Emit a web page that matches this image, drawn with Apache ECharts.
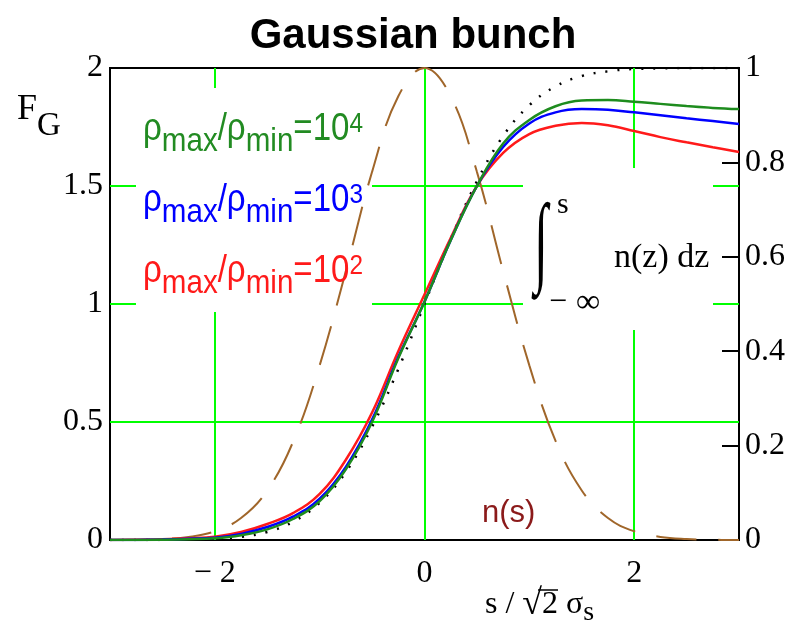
<!DOCTYPE html>
<html><head><meta charset="utf-8">
<script src="https://cdn.jsdelivr.net/npm/echarts@6/dist/echarts.min.js"></script>
<style>html,body{margin:0;padding:0;background:#fff}#c{width:788px;height:631px}</style>
</head><body><div id="c"></div>
<script>
// ---- data ----
const xs      = [-3,-2.75,-2.5,-2.25,-2,-1.75,-1.5,-1.25,-1,-0.75,-0.5,-0.25,0,0.25,0.5,0.75,1,1.25,1.5,1.75,2,2.25,2.5,2.75,3];
const nS      = [0,0.001,0.004,0.013,0.037,0.093,0.21,0.42,0.74,1.14,1.56,1.88,2,1.88,1.56,1.14,0.74,0.42,0.21,0.093,0.037,0.013,0.004,0.001,0];
const integ   = [0,0.0001,0.0002,0.0008,0.0023,0.0067,0.017,0.039,0.079,0.144,0.24,0.362,0.5,0.638,0.76,0.856,0.921,0.961,0.983,0.993,0.998,0.999,1,1,1];
const fgRed   = [0,0.001,0.003,0.007,0.014,0.034,0.068,0.115,0.195,0.34,0.54,0.80,1.04,1.28,1.50,1.64,1.72,1.755,1.767,1.757,1.733,1.707,1.685,1.664,1.644];
const fgBlue  = [0,0.0005,0.002,0.005,0.01,0.026,0.055,0.10,0.175,0.31,0.51,0.775,1.01,1.27,1.50,1.665,1.765,1.812,1.826,1.823,1.812,1.80,1.787,1.775,1.763];
const fgGreen = [0,0,0.001,0.003,0.007,0.02,0.045,0.09,0.165,0.30,0.50,0.77,1.01,1.27,1.50,1.68,1.78,1.838,1.862,1.864,1.857,1.848,1.839,1.831,1.826];
const xGrid = [-2,0,2];
const yGrid = [0.5,1,1.5];
const xTickLabels = {'-2':'\u2212 2','0':'0','2':'2'};
const legendLabels = [
  {sup:'4', color:'#228b22'},
  {sup:'3', color:'#0000ff'},
  {sup:'2', color:'#ff1a1a'}
];

const pairs = ys => xs.map((x,i)=>[x,ys[i]]);
const serif = '"Liberation Serif", "Times New Roman", serif';
const sans = '"Liberation Sans", Arial, sans-serif';

const chart = echarts.init(document.getElementById('c'));
const legendY = [130, 201, 272];

const T = (x,y,text,size,family,extra) => Object.assign({type:'text', z:10, x, y, silent:true,
  style:Object.assign({text, fontSize:size, fontFamily:family, fill:'#000', align:'left', verticalAlign:'middle'}, extra||{})});

const graphics = [
  {type:'rect', z:7, shape:{x:136,y:88,width:236,height:224}, style:{fill:'#fff'}, silent:true},
  {type:'rect', z:7, shape:{x:523,y:168,width:190,height:162}, style:{fill:'#fff'}, silent:true},
  T(413, 36, 'Gaussian bunch', 42, sans, {fontWeight:'bold', align:'center'}),
  T(17, 110, 'F', 36, serif),
  T(37, 126, 'G', 33, serif),
  Object.assign(T(541, 247, '\u222B', 100, serif, {align:'center'}), {scaleX:0.5}),
  T(557, 205, 's', 30, serif),
  T(549, 303, '\u2212', 32, serif),
  T(576, 303, '\u221E', 34, serif),
  T(614, 258, 'n(z) dz', 34, serif),
  T(482, 513, 'n(s)', 31, sans, {fill:'#8b1a1a'}),
  T(485, 605, '{t|s / }{q|\u221A}{t|2 \u03C3}{s|s}', 32, serif, {
     rich:{t:{fontSize:32, fontFamily:serif, lineHeight:44, verticalAlign:'middle'},
           q:{fontSize:36, fontFamily:serif, lineHeight:44, verticalAlign:'middle'},
           s:{fontSize:28, fontFamily:serif, lineHeight:28, verticalAlign:'bottom'}}}),
  {type:'line', z:10, silent:true, shape:{x1:538,y1:590,x2:558,y2:590}, style:{stroke:'#000', lineWidth:1.5}}
];
legendLabels.forEach((L,i)=>{
  graphics.push({type:'text', z:10, x:143, y:legendY[i], scaleX:0.87, silent:true,
    style:{text:'{r|\u03C1}{b|max}{r|/\u03C1}{b|min}{r|=10}{p|'+L.sup+'}', fill:L.color, fontFamily:sans, align:'left', verticalAlign:'middle',
      rich:{
        r:{fontSize:38, fontFamily:sans, fill:L.color, lineHeight:58, verticalAlign:'middle'},
        b:{fontSize:34, fontFamily:sans, fill:L.color, lineHeight:34, padding:[24,0,0,0], verticalAlign:'bottom'},
        p:{fontSize:28, fontFamily:sans, fill:L.color, lineHeight:28, padding:[9,0,0,0], verticalAlign:'top'}
      }}});
});

const curve = (ys, color, yIdx, type, width) => ({
  type:'line', data:pairs(ys), yAxisIndex:yIdx, showSymbol:false, symbol:'none', smooth:0.4, z:9,
  lineStyle:{color, width, type}, silent:true
});

chart.setOption({
  animation:false,
  backgroundColor:'#fff',
  grid:{left:110, right:46, top:68, bottom:91, show:true, borderColor:'#000', borderWidth:2, backgroundColor:'transparent'},
  xAxis:{type:'value', min:-3, max:3, interval:1,
    axisLine:{show:false}, axisTick:{show:false}, splitLine:{show:false},
    axisLabel:{margin:18, fontSize:32, fontFamily:serif, color:'#000',
      formatter:v=> (xTickLabels[String(v)]!==undefined ? xTickLabels[String(v)] : '')}},
  yAxis:[
    {type:'value', min:0, max:2, interval:0.5, position:'left',
      axisLine:{show:false}, axisTick:{show:false}, splitLine:{show:false},
      axisLabel:{margin:7, fontSize:32, fontFamily:serif, color:'#000'}},
    {type:'value', min:0, max:1, interval:0.2, position:'right',
      axisLine:{show:false}, splitLine:{show:false},
      axisTick:{show:true, inside:true, length:17, lineStyle:{color:'#000', width:2}},
      axisLabel:{margin:6, fontSize:32, fontFamily:serif, color:'#000'}}
  ],
  graphic:graphics,
  series:[
    {type:'line', data:[[-3,0]], symbol:'none', z:1, lineStyle:{opacity:0}, silent:true,
      markLine:{silent:true, symbol:'none', animation:false, label:{show:false},
        lineStyle:{color:'#00ff00', width:2, type:'solid'},
        data: xGrid.map(v=>({xAxis:v})).concat(yGrid.map(v=>({yAxis:v})))}},
    curve(nS, '#a0662a', 0, [40,22], 2),
    curve(integ, '#000', 1, [2,10], 2.5),
    curve(fgRed, '#ff1a1a', 0, 'solid', 2.5),
    curve(fgBlue, '#0000ff', 0, 'solid', 2.5),
    curve(fgGreen, '#1e8c1e', 0, 'solid', 2.5)
  ]
});
</script></body></html>
